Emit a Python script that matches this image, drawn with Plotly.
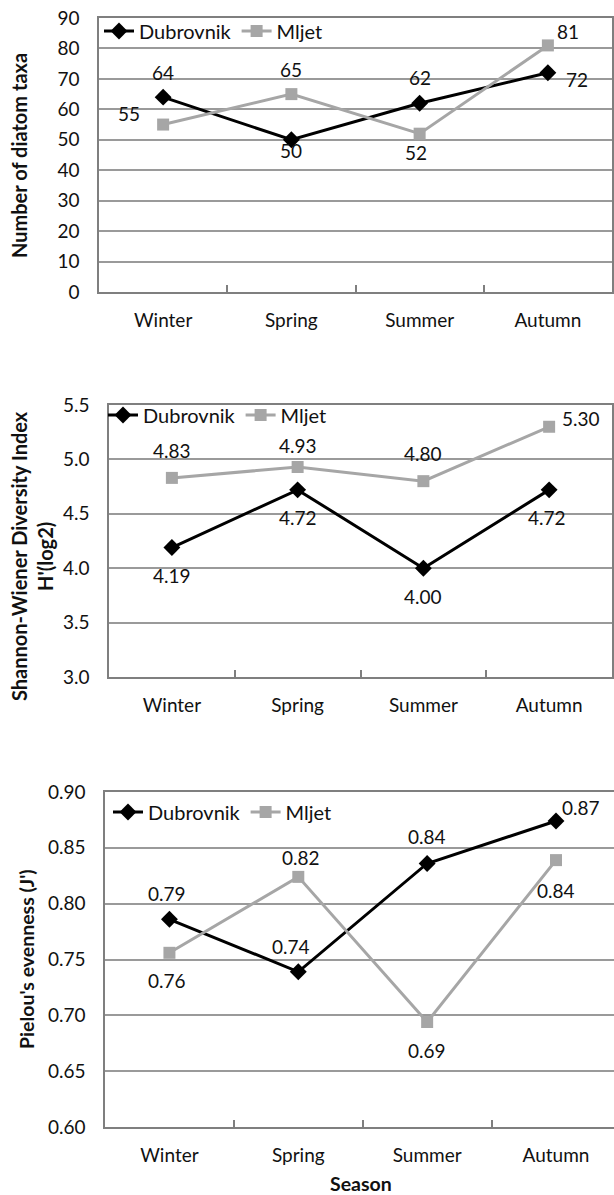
import plotly.graph_objects as go

seasons = ["Winter", "Spring", "Summer", "Autumn"]
series_names = ["Dubrovnik", "Mljet"]

taxa_dubrovnik = [64, 50, 62, 72]
taxa_mljet = [55, 65, 52, 81]

shannon_dubrovnik = [4.19, 4.72, 4.00, 4.72]
shannon_mljet = [4.83, 4.93, 4.80, 5.30]

pielou_dubrovnik = [0.786, 0.739, 0.836, 0.874]
pielou_mljet = [0.756, 0.824, 0.694, 0.839]

taxa_ticks = list(range(0, 91, 10))
shannon_ticks = [3.0, 3.5, 4.0, 4.5, 5.0, 5.5]
pielou_ticks = [0.60, 0.65, 0.70, 0.75, 0.80, 0.85, 0.90]

# label offsets (dx, dy) in pixels, dy positive = up
off_taxa_d = [(0, 25), (0, -11), (0, 26), (29, -7)]
off_taxa_m = [(-34, 11), (0, 25), (-4, -19), (20, 14)]
off_sh_d = [(0, -28), (0, -28), (0, -28), (-2, -28)]
off_sh_m = [(0, 27), (0, 22), (0, 28), (32, 8)]
off_pi_d = [(-2, 26), (-7, 25), (0, 27), (25, 14)]
off_pi_m = [(-2, -28), (3, 19), (0, -28), (0, -30)]

W, H = 614, 1195


def fx(p):
    return p / W


def fy(p):
    return 1 - p / H


FONT = "Lato"
TXT = "#111111"
BLACK = "#000000"
GRAY = "#a6a6a6"
GRID = "#9a9a9a"
FRAME = "#7f7f7f"
FS = 19

fig = go.Figure()

panels = [
    dict(d=taxa_dubrovnik, m=taxa_mljet, fmt=lambda v: f"{v:d}", od=off_taxa_d, om=off_taxa_m,
         ticks=taxa_ticks, tfmt=lambda v: f"{v:d}", rng=[0, 90], right=True,
         xdom=[fx(99), fx(612)], xr=[-0.5, 3.5], ydom=[fy(292), fy(18)], legend="legend"),
    dict(d=shannon_dubrovnik, m=shannon_mljet, fmt=lambda v: f"{v:.2f}", od=off_sh_d, om=off_sh_m,
         ticks=shannon_ticks, tfmt=lambda v: f"{v:.1f}", rng=[3.0, 5.5], right=True,
         xdom=[fx(109), fx(612)], xr=[-0.5, 3.5], ydom=[fy(677), fy(405)], legend="legend2"),
    dict(d=pielou_dubrovnik, m=pielou_mljet, fmt=lambda v: f"{v:.2f}", od=off_pi_d, om=off_pi_m,
         ticks=pielou_ticks, tfmt=lambda v: f"{v:.2f}", rng=[0.60, 0.90], right=False,
         xdom=[fx(105), 1.0], xr=[-0.5, 3.45], ydom=[fy(1127), fy(792)], legend="legend3"),
]

annotations = []
layout_axes = {}
for i, p in enumerate(panels, start=1):
    xa = "x" if i == 1 else f"x{i}"
    ya = "y" if i == 1 else f"y{i}"
    fig.add_trace(go.Scatter(
        x=seasons, y=p["d"], name=series_names[0], mode="lines+markers",
        line=dict(color=BLACK, width=3),
        marker=dict(symbol="diamond", size=13, color=BLACK),
        xaxis=xa, yaxis=ya, legend=p["legend"]))
    fig.add_trace(go.Scatter(
        x=seasons, y=p["m"], name=series_names[1], mode="lines+markers",
        line=dict(color=GRAY, width=3),
        marker=dict(symbol="square", size=12, color=GRAY),
        xaxis=xa, yaxis=ya, legend=p["legend"]))
    for vals, offs in ((p["d"], p["od"]), (p["m"], p["om"])):
        for s, v, (dx, dy) in zip(seasons, vals, offs):
            annotations.append(dict(
                x=s, y=v, xref=xa, yref=ya, text=p["fmt"](v), showarrow=False,
                xanchor="center", yanchor="middle", xshift=dx, yshift=dy,
                font=dict(family=FONT, size=FS, color=TXT)))
    layout_axes[f"xaxis{'' if i == 1 else i}"] = dict(
        domain=p["xdom"], range=p["xr"], type="category", automargin=False,
        anchor=ya, showgrid=False, showline=True, linecolor=FRAME, linewidth=1.5,
        mirror=True, ticks="inside", tickson="boundaries", ticklen=7, tickcolor=FRAME,
        tickwidth=1.5, tickfont=dict(family=FONT, size=FS, color=TXT),
        ticklabelstandoff=10, ticklabeloverflow="allow", fixedrange=True)
    layout_axes[f"yaxis{'' if i == 1 else i}"] = dict(
        domain=p["ydom"], range=p["rng"], anchor=xa, automargin=False,
        tickvals=p["ticks"], ticktext=[p["tfmt"](t) for t in p["ticks"]],
        showgrid=True, gridcolor=GRID, gridwidth=1.5,
        showline=True, linecolor=FRAME, linewidth=1.5, mirror=p["right"],
        zeroline=False, ticks="", tickfont=dict(family=FONT, size=FS, color=TXT),
        ticklabelstandoff=14, ticklabeloverflow="allow", fixedrange=True)

tf_big = dict(family=FONT, size=20, color=TXT)
tf_mid = dict(family=FONT, size=19.5, color=TXT)
annotations += [
    dict(x=fx(19), y=fy(156), xref="paper", yref="paper", text="<b>Number of diatom taxa</b>",
         textangle=-90, showarrow=False, xanchor="center", yanchor="middle", font=tf_big),
    dict(x=fx(32), y=fy(556), xref="paper", yref="paper",
         text="<b>Shannon-Wiener Diversity Index</b><br><b>H'(log2)</b>",
         textangle=-90, showarrow=False, xanchor="center", yanchor="middle", font=tf_big),
    dict(x=fx(26), y=fy(959), xref="paper", yref="paper", text="<b>Pielou's evenness (J')</b>",
         textangle=-90, showarrow=False, xanchor="center", yanchor="middle", font=tf_mid),
    dict(x=fx(361), y=fy(1183), xref="paper", yref="paper", text="<b>Season</b>",
         showarrow=False, xanchor="center", yanchor="middle", font=tf_mid),
]

leg_common = dict(orientation="h", xanchor="left", yanchor="middle", bgcolor="rgba(0,0,0,0)",
                  font=dict(family=FONT, size=20, color=TXT), itemwidth=30,
                  tracegroupgap=0, borderwidth=0)

fig.update_layout(
    width=W, height=H, margin=dict(l=0, r=0, t=0, b=0, autoexpand=False),
    paper_bgcolor="white", plot_bgcolor="white",
    showlegend=True,
    legend=dict(x=fx(99), y=fy(31), **leg_common),
    legend2=dict(x=fx(103), y=fy(415), **leg_common),
    legend3=dict(x=fx(108), y=fy(812), **leg_common),
    annotations=annotations,
    **layout_axes,
)

fig.write_html("out.html", config={"displayModeBar": False},
               post_script="document.body.style.margin='0px';")
